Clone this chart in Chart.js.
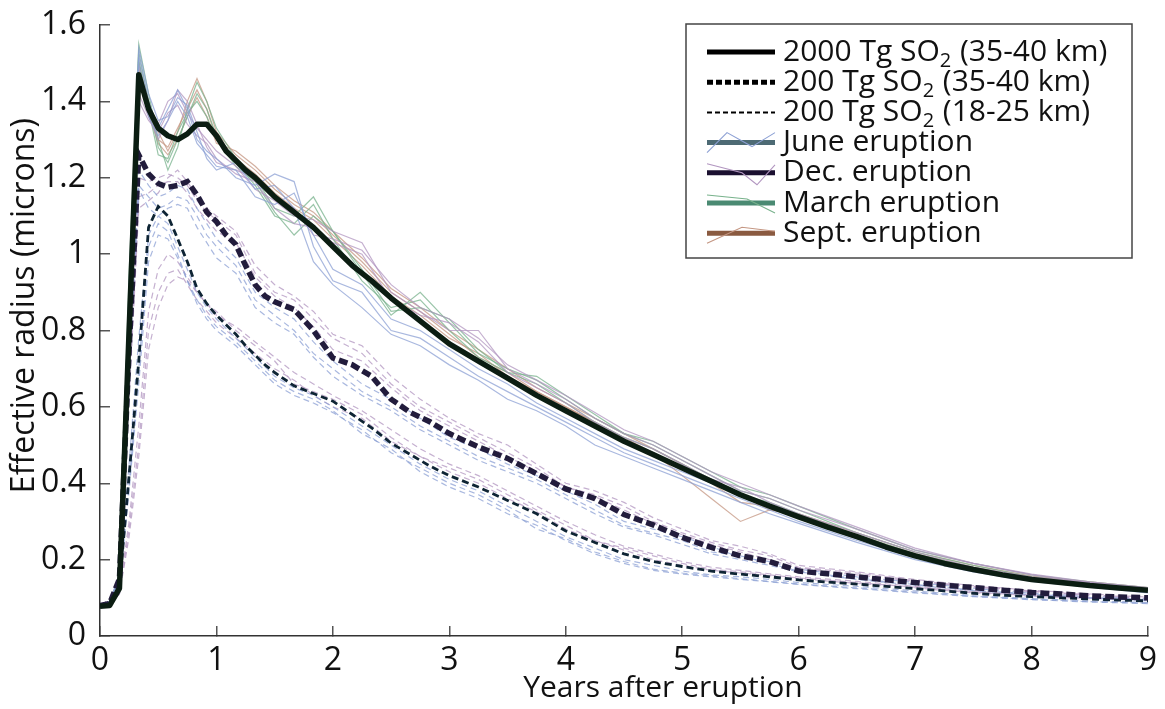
<!DOCTYPE html>
<html><head><meta charset="utf-8">
<script src="https://cdn.jsdelivr.net/npm/chart.js@4.4.1/dist/chart.umd.min.js"></script>
<style>html,body{margin:0;padding:0;background:#fff}#wrap{width:1165px;height:709px;position:relative}</style>
</head><body><div id="wrap"><canvas id="c" width="1165" height="709"></canvas></div>
<script>
// ---------------- data ----------------
const xTickLabels = ['0','1','2','3','4','5','6','7','8','9'];
const yTickLabels = ['0','0.2','0.4','0.6','0.8','1','1.2','1.4','1.6'];
const xTitle = 'Years after eruption';
const yTitle = 'Effective radius (microns)';
const legendLabels = ['2000 Tg SO₂ (35-40 km)','200 Tg SO₂ (35-40 km)','200 Tg SO₂ (18-25 km)',
  'June eruption','Dec. eruption','March eruption','Sept. eruption'];

// time axis (years) of the ensemble means
const tMain = [0,0.083,0.167,0.25,0.333, 0.417,0.5,0.583,0.667,0.75, 0.833,0.917,1.0,1.083,1.167,
  1.25,1.333,1.417,1.5,1.667, 1.833,2.0,2.167,2.333,2.5, 2.667,2.833,3.0,3.25,3.5,
  3.75,4.0,4.25,4.5,4.75, 5.0,5.25,5.5,5.75,6.0, 6.25,6.5,6.75,7.0,7.25, 7.5,7.75,8.0,8.25,8.5, 8.75,9.0];
const mean2000High = [0.078,0.08,0.125,0.80,1.47, 1.38,1.33,1.31,1.30,1.315, 1.34,1.34,1.31,1.27,1.245,
  1.22,1.20,1.175,1.15,1.11, 1.07,1.02,0.97,0.93,0.885, 0.845,0.805,0.765,0.72,0.675,
  0.63,0.59,0.55,0.51,0.475, 0.44,0.405,0.37,0.34,0.312, 0.285,0.26,0.233,0.21,0.19,
  0.174,0.16,0.148,0.14,0.132, 0.126,0.12];
const mean200High = [0.08,0.085,0.15,0.75,1.26, 1.21,1.185,1.175,1.18,1.19, 1.155,1.11,1.085,1.05,1.025,
  0.97,0.92,0.89,0.875,0.855, 0.80,0.728,0.71,0.68,0.62, 0.585,0.561,0.53,0.495,0.465,
  0.425,0.385,0.36,0.318,0.291, 0.258,0.232,0.21,0.195,0.17, 0.163,0.155,0.147,0.14,0.133,
  0.127,0.12,0.114,0.11,0.105, 0.102,0.10];
const mean200Low = [0.08,0.09,0.13,0.42,0.72, 1.07,1.125,1.10,1.04,0.98, 0.91,0.87,0.84,0.815,0.79,
  0.76,0.735,0.71,0.69,0.655, 0.635,0.615,0.58,0.545,0.505, 0.475,0.445,0.42,0.39,0.355,
  0.32,0.275,0.245,0.215,0.195, 0.182,0.17,0.162,0.155,0.147, 0.141,0.136,0.13,0.124,0.118,
  0.112,0.107,0.103,0.10,0.097, 0.094,0.092];

// time axis (years) of the individual members
const tEns = [0,0.083,0.167,0.25,0.333, 0.417,0.5,0.583,0.667,0.75, 0.833,0.917,1.0,1.167,1.333,
  1.5,1.667,1.833,2.0,2.25, 2.5,2.75,3.0,3.25,3.5, 3.75,4.0,4.25,4.5,4.75,
  5.0,5.25,5.5,5.75,6.0, 6.5,7.0,7.5,8.0,8.5, 9.0];
// 2000 Tg (35-40 km) members
const m2000JuneA = [0.08,0.09,0.15,0.90,1.52, 1.40,1.33,1.38,1.43,1.38, 1.30,1.27,1.25,1.20,1.18, 1.21,1.19,1.02,0.93,0.90, 0.80,0.78,0.73,0.68,0.64, 0.60,0.56,0.52,0.48,0.45, 0.42,0.39,0.36,0.33,0.30, 0.25,0.205,0.17,0.145,0.13, 0.115];
const m2000JuneB = [0.08,0.09,0.14,0.85,1.50, 1.36,1.31,1.35,1.40,1.36, 1.29,1.26,1.23,1.22,1.15, 1.13,1.16,1.05,0.96,0.92, 0.83,0.80,0.75,0.70,0.66, 0.61,0.57,0.53,0.49,0.46, 0.43,0.40,0.37,0.335,0.31, 0.255,0.21,0.175,0.15,0.135, 0.12];
const m2000JuneC = [0.08,0.09,0.16,0.92,1.54, 1.42,1.35,1.36,1.41,1.39, 1.32,1.25,1.22,1.24,1.17, 1.18,1.12,0.98,0.92,0.86, 0.79,0.76,0.71,0.67,0.62, 0.59,0.55,0.50,0.47,0.44, 0.41,0.38,0.35,0.32,0.295, 0.245,0.20,0.168,0.143,0.128, 0.113];
const m2000DecA = [0.08,0.09,0.13,0.70,1.45, 1.38,1.34,1.40,1.42,1.37, 1.33,1.30,1.27,1.23,1.17, 1.14,1.10,1.09,1.06,1.03, 0.90,0.85,0.80,0.80,0.70, 0.66,0.62,0.57,0.53,0.50, 0.46,0.42,0.38,0.36,0.33, 0.28,0.225,0.19,0.16,0.14, 0.125];
const m2000DecB = [0.08,0.085,0.12,0.65,1.40, 1.35,1.32,1.37,1.39,1.34, 1.31,1.29,1.25,1.21,1.19, 1.12,1.08,1.07,1.03,1.00, 0.88,0.84,0.82,0.77,0.69, 0.65,0.61,0.56,0.52,0.49, 0.45,0.41,0.39,0.35,0.32, 0.27,0.22,0.18,0.155,0.14, 0.125];
const m2000DecC = [0.08,0.09,0.12,0.68,1.42, 1.36,1.30,1.35,1.43,1.40, 1.34,1.28,1.24,1.22,1.20, 1.15,1.12,1.05,1.04,1.01, 0.92,0.86,0.83,0.78,0.71, 0.67,0.63,0.585,0.54,0.51, 0.47,0.43,0.40,0.37,0.34, 0.285,0.23,0.19,0.162,0.142, 0.127];
const m2000MarA = [0.08,0.09,0.15,0.95,1.55, 1.42,1.30,1.22,1.28,1.38, 1.45,1.40,1.33,1.25,1.20, 1.12,1.10,1.15,1.06,0.95, 0.84,0.90,0.82,0.74,0.70, 0.67,0.62,0.57,0.53,0.50, 0.46,0.42,0.38,0.36,0.33, 0.27,0.22,0.185,0.155,0.14, 0.125];
const m2000MarB = [0.08,0.09,0.14,0.92,1.53, 1.40,1.28,1.24,1.30,1.36, 1.42,1.38,1.31,1.24,1.18, 1.10,1.08,1.13,1.04,0.93, 0.86,0.88,0.80,0.73,0.69, 0.66,0.61,0.56,0.52,0.49, 0.45,0.41,0.37,0.35,0.32, 0.265,0.215,0.18,0.15,0.135, 0.12];
const m2000MarC = [0.08,0.09,0.15,0.90,1.51, 1.38,1.26,1.25,1.32,1.37, 1.40,1.36,1.30,1.23,1.19, 1.11,1.05,1.10,1.06,0.96, 0.85,0.86,0.83,0.75,0.69, 0.68,0.63,0.58,0.53,0.51, 0.47,0.43,0.39,0.37,0.34, 0.28,0.225,0.19,0.16,0.142, 0.127];
const m2000SepA = [0.08,0.09,0.14,0.88,1.50, 1.40,1.32,1.27,1.32,1.40, 1.46,1.40,1.32,1.26,1.22, 1.17,1.13,1.10,1.05,0.98, 0.90,0.85,0.79,0.73,0.69, 0.64,0.60,0.56,0.52,0.48, 0.42,0.36,0.30,0.33,0.32, 0.265,0.215,0.18,0.155,0.14, 0.125];
const m2000SepB = [0.08,0.085,0.13,0.83,1.48, 1.38,1.30,1.28,1.33,1.38, 1.43,1.38,1.30,1.25,1.21, 1.16,1.12,1.09,1.04,0.97, 0.89,0.84,0.78,0.74,0.68, 0.64,0.60,0.56,0.51,0.48, 0.44,0.40,0.35,0.34,0.31, 0.26,0.215,0.18,0.15,0.135, 0.12];
const m2000SepC = [0.08,0.09,0.14,0.86,1.49, 1.37,1.29,1.26,1.30,1.36, 1.41,1.36,1.29,1.27,1.23, 1.18,1.14,1.11,1.06,0.99, 0.91,0.86,0.80,0.75,0.70, 0.65,0.61,0.57,0.53,0.49, 0.45,0.41,0.37,0.33,0.32, 0.27,0.22,0.185,0.157,0.142, 0.127];
// 200 Tg (35-40 km) members
const m200HiJuneA = [0.08,0.09,0.16,0.70,1.18, 1.15,1.12,1.13,1.15,1.14, 1.10,1.05,1.02,0.97,0.88, 0.84,0.80,0.74,0.70,0.64, 0.60,0.55,0.51,0.47,0.44, 0.41,0.37,0.33,0.29,0.27, 0.25,0.22,0.21,0.19,0.17, 0.15,0.135,0.12,0.11,0.10, 0.095];
const m200HiJuneB = [0.08,0.09,0.15,0.72,1.22, 1.18,1.15,1.16,1.18,1.17, 1.12,1.08,1.04,0.99,0.90, 0.86,0.83,0.77,0.72,0.66, 0.62,0.57,0.52,0.49,0.45, 0.42,0.38,0.345,0.30,0.28, 0.26,0.235,0.205,0.195,0.175, 0.155,0.14,0.125,0.112,0.103, 0.097];
const m200HiJuneC = [0.08,0.09,0.15,0.70,1.17, 1.12,1.10,1.12,1.13,1.12, 1.07,1.03,0.99,0.95,0.86, 0.82,0.79,0.73,0.68,0.63, 0.59,0.54,0.50,0.46,0.43, 0.40,0.36,0.32,0.285,0.265, 0.24,0.215,0.20,0.185,0.168, 0.148,0.133,0.119,0.108,0.099, 0.093];
const m200HiDecA = [0.08,0.085,0.14,0.68,1.20, 1.19,1.20,1.21,1.20,1.18, 1.14,1.11,1.09,1.05,0.95, 0.90,0.88,0.83,0.78,0.74, 0.66,0.60,0.56,0.52,0.48, 0.44,0.39,0.37,0.34,0.30, 0.27,0.245,0.225,0.21,0.18, 0.165,0.145,0.13,0.118,0.108, 0.10];
const m200HiDecB = [0.08,0.085,0.13,0.65,1.15, 1.16,1.18,1.19,1.19,1.16, 1.12,1.09,1.06,1.03,0.94, 0.89,0.86,0.81,0.75,0.72, 0.65,0.59,0.55,0.51,0.47, 0.43,0.39,0.365,0.33,0.295, 0.265,0.24,0.22,0.20,0.178, 0.16,0.143,0.128,0.116,0.106, 0.098];
const m200HiDecC = [0.08,0.085,0.13,0.62,1.12, 1.14,1.16,1.20,1.22,1.19, 1.15,1.12,1.10,1.06,0.97, 0.92,0.89,0.85,0.79,0.76, 0.68,0.62,0.57,0.53,0.50, 0.45,0.40,0.38,0.35,0.31, 0.28,0.25,0.235,0.215,0.185, 0.168,0.148,0.132,0.12,0.11, 0.102];
// 200 Tg (18-25 km) members
const m200LoJuneA = [0.08,0.09,0.14,0.45,0.78, 1.05,1.10,1.08,1.02,0.96, 0.90,0.86,0.83,0.78,0.73, 0.68,0.65,0.63,0.60,0.55, 0.50,0.45,0.41,0.38,0.34, 0.30,0.26,0.23,0.20,0.185, 0.17,0.16,0.155,0.148,0.14, 0.13,0.118,0.106,0.098,0.092, 0.088];
const m200LoJuneB = [0.08,0.09,0.13,0.40,0.70, 1.02,1.08,1.06,1.00,0.93, 0.87,0.83,0.80,0.76,0.71, 0.66,0.63,0.61,0.585,0.54, 0.48,0.44,0.40,0.37,0.33, 0.28,0.255,0.22,0.195,0.175, 0.165,0.158,0.15,0.143,0.136, 0.126,0.115,0.104,0.096,0.09, 0.086];
const m200LoJuneC = [0.08,0.09,0.13,0.38,0.66, 0.98,1.05,1.04,0.99,0.93, 0.88,0.84,0.81,0.77,0.72, 0.67,0.64,0.62,0.59,0.53, 0.49,0.43,0.39,0.36,0.32, 0.29,0.25,0.215,0.19,0.172, 0.162,0.155,0.148,0.142,0.135, 0.124,0.113,0.103,0.095,0.089, 0.085];
const m200LoDecA = [0.08,0.085,0.12,0.30,0.55, 0.85,0.96,1.00,0.98,0.94, 0.90,0.87,0.85,0.80,0.76, 0.72,0.66,0.64,0.62,0.58, 0.52,0.47,0.44,0.41,0.37, 0.33,0.29,0.25,0.23,0.21, 0.19,0.175,0.168,0.16,0.152, 0.14,0.128,0.115,0.106,0.10, 0.095];
const m200LoDecB = [0.08,0.085,0.11,0.28,0.50, 0.80,0.90,0.95,0.96,0.92, 0.88,0.85,0.82,0.78,0.74, 0.70,0.67,0.63,0.60,0.57, 0.51,0.47,0.43,0.40,0.36, 0.325,0.28,0.25,0.225,0.20, 0.185,0.172,0.165,0.158,0.15, 0.138,0.126,0.113,0.104,0.098, 0.093];
const m200LoDecC = [0.08,0.085,0.11,0.26,0.47, 0.75,0.86,0.92,0.94,0.93, 0.90,0.87,0.84,0.81,0.77, 0.73,0.69,0.66,0.63,0.59, 0.54,0.49,0.45,0.42,0.38, 0.34,0.30,0.265,0.235,0.215, 0.195,0.18,0.172,0.163,0.155, 0.143,0.13,0.117,0.108,0.101, 0.096];

// ---------------- styles ----------------
const FONT = "'Open Sans', 'Noto Sans', sans-serif";
const C = {
  june: 'rgba(140,160,212,0.75)', dec: 'rgba(178,150,192,0.75)',
  mar: 'rgba(120,178,140,0.75)', sep: 'rgba(196,150,130,0.75)',
  k2000: '#0b1d12', kHi: '#221c3c', kLo: '#0e2434'
};
const pts = (t, v) => t.map((x, i) => ({x: x, y: v[i]}));
function member(t, v, color, dashed) {
  return {data: pts(t, v), borderColor: color, borderWidth: 1.2, borderDash: dashed ? [6, 4] : [],
    pointRadius: 0, tension: 0, fill: false, order: 5};
}
const datasets = [
  {data: pts(tMain, mean2000High), borderColor: C.k2000, borderWidth: 5.5, pointRadius: 0, tension: 0, order: 0,
    borderJoinStyle: 'round'},
  {data: pts(tMain, mean200High), borderColor: C.kHi, borderWidth: 5.5, borderDash: [9, 4], pointRadius: 0, tension: 0, order: 1},
  {data: pts(tMain, mean200Low), borderColor: C.kLo, borderWidth: 2.8, borderDash: [7, 4], pointRadius: 0, tension: 0, order: 2},
  member(tEns, m2000JuneA, C.june), member(tEns, m2000JuneB, C.june), member(tEns, m2000JuneC, C.june),
  member(tEns, m2000DecA, C.dec), member(tEns, m2000DecB, C.dec), member(tEns, m2000DecC, C.dec),
  member(tEns, m2000MarA, C.mar), member(tEns, m2000MarB, C.mar), member(tEns, m2000MarC, C.mar),
  member(tEns, m2000SepA, C.sep), member(tEns, m2000SepB, C.sep), member(tEns, m2000SepC, C.sep),
  member(tEns, m200HiJuneA, C.june, true), member(tEns, m200HiJuneB, C.june, true), member(tEns, m200HiJuneC, C.june, true),
  member(tEns, m200HiDecA, C.dec, true), member(tEns, m200HiDecB, C.dec, true), member(tEns, m200HiDecC, C.dec, true),
  member(tEns, m200LoJuneA, C.june, true), member(tEns, m200LoJuneB, C.june, true), member(tEns, m200LoJuneC, C.june, true),
  member(tEns, m200LoDecA, C.dec, true), member(tEns, m200LoDecB, C.dec, true), member(tEns, m200LoDecC, C.dec, true)
];

// legend samples
const legendStyles = [
  {color: '#000', width: 5, dash: []},
  {color: '#000', width: 5, dash: [6, 3]},
  {color: '#000', width: 2, dash: [5, 3]},
  {color: '#4d6a74', width: 5, dash: [], thin: 'rgba(140,160,212,1)', path: [[0,10],[20,-10],[45,4],[68,-10]]},
  {color: '#1b1030', width: 5, dash: [], thin: 'rgba(178,150,192,1)', path: [[0,-9],[35,0],[50,12],[68,-8]]},
  {color: '#4a8a72', width: 5, dash: [], thin: 'rgba(120,178,140,1)', path: [[0,-8],[40,-4],[68,10]]},
  {color: '#8a5a40', width: 5, dash: [], thin: 'rgba(196,150,130,1)', path: [[0,10],[35,-6],[68,-2]]}
];
const boxLegend = {
  id: 'boxLegend',
  afterDraw(chart) {
    const ctx = chart.ctx;
    const bx = 686, by = 24, bw = 446, bh = 234;
    ctx.save();
    ctx.fillStyle = '#fff'; ctx.fillRect(bx, by, bw, bh);
    ctx.strokeStyle = '#444'; ctx.lineWidth = 1.5; ctx.strokeRect(bx, by, bw, bh);
    legendLabels.forEach((lab, i) => {
      const y = 52 + i * 30.2;
      const s = legendStyles[i];
      ctx.setLineDash(s.dash); ctx.strokeStyle = s.color; ctx.lineWidth = s.width; ctx.lineCap = 'butt';
      ctx.beginPath(); ctx.moveTo(707, y); ctx.lineTo(775, y); ctx.stroke();
      if (s.thin) {
        ctx.setLineDash([]); ctx.strokeStyle = s.thin; ctx.lineWidth = 1.1;
        ctx.beginPath();
        s.path.forEach((p, j) => { const px = 707 + p[0], py = y + p[1]; j ? ctx.lineTo(px, py) : ctx.moveTo(px, py); });
        ctx.stroke();
      }
      ctx.setLineDash([]);
      ctx.fillStyle = '#111'; ctx.textBaseline = 'middle'; ctx.textAlign = 'left';
      const parts = lab.split('₂');
      let x = 783;
      ctx.font = '30px ' + FONT;
      ctx.fillText(parts[0], x, y); x += ctx.measureText(parts[0]).width;
      if (parts.length > 1) {
        ctx.font = '20px ' + FONT;
        ctx.fillText('2', x, y + 9); x += ctx.measureText('2').width + 1;
        ctx.font = '30px ' + FONT;
        ctx.fillText(parts[1], x, y);
      }
    });
    ctx.restore();
  }
};

function zeroPad(s) { s.paddingTop = 0; s.paddingBottom = 0; s.paddingLeft = 0; s.paddingRight = 0; }

new Chart(document.getElementById('c'), {
  type: 'line',
  data: {datasets: datasets},
  plugins: [boxLegend],
  options: {
    responsive: false, animation: false, devicePixelRatio: 1,
    layout: {padding: {top: 25, right: 17, left: 0, bottom: 0}},
    plugins: {legend: {display: false}, tooltip: {enabled: false}},
    scales: {
      x: {
        type: 'linear', min: 0, max: 9,
        afterFit: (s) => { s.height = 73; zeroPad(s); },
        ticks: {stepSize: 1, autoSkip: false, maxRotation: 0, padding: 16, color: '#111',
          font: {family: FONT, size: 32}, callback: (v) => xTickLabels[Math.round(v)]},
        grid: {display: true, drawOnChartArea: false, drawTicks: true, tickLength: -10, color: '#555', lineWidth: 1.5},
        border: {display: true, color: '#333', width: 1.5},
        title: {display: true, text: '          ' + xTitle, color: '#111', font: {family: FONT, size: 30},
          padding: {top: 0, bottom: 3}}
      },
      y: {
        type: 'linear', min: 0, max: 1.6,
        afterFit: (s) => { s.width = 100; zeroPad(s); },
        ticks: {stepSize: 0.2, padding: 24, color: '#111', font: {family: FONT, size: 32},
          callback: (v) => yTickLabels[Math.round(v * 5)]},
        grid: {display: true, drawOnChartArea: false, drawTicks: true, tickLength: -10, color: '#555', lineWidth: 1.5},
        border: {display: true, color: '#333', width: 1.5},
        title: {display: true, text: '      ' + yTitle, color: '#111', font: {family: FONT, size: 32},
          padding: {top: 6, bottom: 0}}
      }
    }
  }
});
</script>
</body></html>
